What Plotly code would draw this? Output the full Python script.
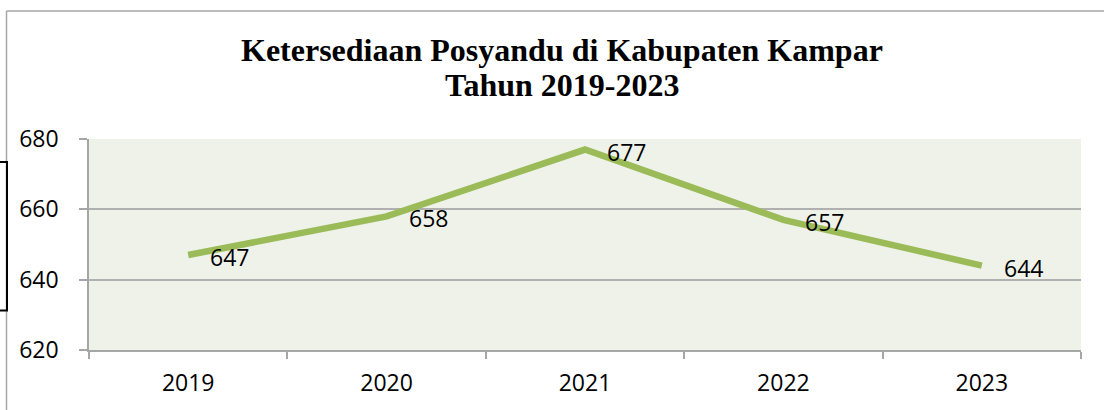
import plotly.graph_objects as go

years = ["2019", "2020", "2021", "2022", "2023"]
posyandu = [647, 658, 677, 657, 644]
y_ticks = [620, 640, 660, 680]
title_line1 = "Ketersediaan Posyandu di Kabupaten Kampar"
title_line2 = "Tahun 2019-2023"

W, H = 1104, 410
L, R, T, B = 89, 1081, 139, 350


def px_x(px):
    return (px - L) / (R - L)


def px_y(py):
    return (B - py) / (B - T)


LABEL_FONT = dict(family="Open Sans, Lato, sans-serif", size=23, color="#000000")
TITLE_FONT = dict(family="Liberation Serif, Times New Roman, serif", size=32, color="#000000")
GREEN = "#9BBB59"

fig = go.Figure()
fig.add_trace(go.Scatter(
    x=years, y=posyandu, mode="lines",
    line=dict(color=GREEN, width=6.5, shape="linear"),
    hoverinfo="x+y", showlegend=False,
))

annotations = []
for i, v in enumerate(posyandu):
    annotations.append(dict(
        x=i, y=v, xref="x", yref="y", text=str(v), showarrow=False,
        xanchor="left", yanchor="middle", xshift=20, yshift=-2,
        font=LABEL_FONT,
    ))

annotations.append(dict(
    x=px_x(561.5), y=px_y(50), xref="paper", yref="paper",
    text="<b>" + title_line1 + "</b>", showarrow=False,
    xanchor="center", yanchor="middle", font=TITLE_FONT,
))
annotations.append(dict(
    x=px_x(561.5), y=px_y(85), xref="paper", yref="paper",
    text="<b>" + title_line2 + "</b>", showarrow=False,
    xanchor="center", yanchor="middle", font=TITLE_FONT,
))

shapes = [
    # outer chart border (left and top visible)
    dict(type="line", xref="paper", yref="paper",
         x0=px_x(6.5), y0=px_y(11), x1=px_x(1110), y1=px_y(11),
         line=dict(color="#A6A6A6", width=1.5)),
    dict(type="line", xref="paper", yref="paper",
         x0=px_x(6.5), y0=px_y(11), x1=px_x(6.5), y1=px_y(415),
         line=dict(color="#A6A6A6", width=1.5)),
    # black bracket at left edge
    dict(type="path", xref="paper", yref="paper",
         path="M %f,%f L %f,%f L %f,%f L %f,%f" % (
             px_x(-2), px_y(162), px_x(7), px_y(162),
             px_x(7), px_y(310.5), px_x(-2), px_y(310.5)),
         line=dict(color="#000000", width=2)),
]

fig.update_layout(
    width=W, height=H,
    margin=dict(l=L, r=W - R, t=T, b=H - B, pad=0),
    paper_bgcolor="#FFFFFF",
    plot_bgcolor="#EFF2E9",
    showlegend=False,
    annotations=annotations,
    shapes=shapes,
    xaxis=dict(
        type="category", categoryorder="array", categoryarray=years,
        range=[-0.5, len(years) - 0.5],
        showgrid=False, zeroline=False,
        showline=True, linecolor="#A6A6A6", linewidth=1.5,
        ticks="outside", tickson="boundaries", ticklen=7,
        tickcolor="#A6A6A6", tickwidth=1.5,
        tickfont=LABEL_FONT, ticklabelstandoff=12,
    ),
    yaxis=dict(
        range=[620, 680], tickvals=y_ticks, ticktext=[str(t) for t in y_ticks],
        showgrid=True, gridcolor="#B0B0B0", gridwidth=1.5,
        zeroline=False,
        showline=True, linecolor="#A6A6A6", linewidth=1.5,
        ticks="outside", ticklen=8, tickcolor="#A6A6A6", tickwidth=1.5,
        tickfont=LABEL_FONT, ticklabelstandoff=16,
    ),
)

fig.write_html("out.html", config={"displayModeBar": False},
               post_script="document.body.style.margin='0';")
